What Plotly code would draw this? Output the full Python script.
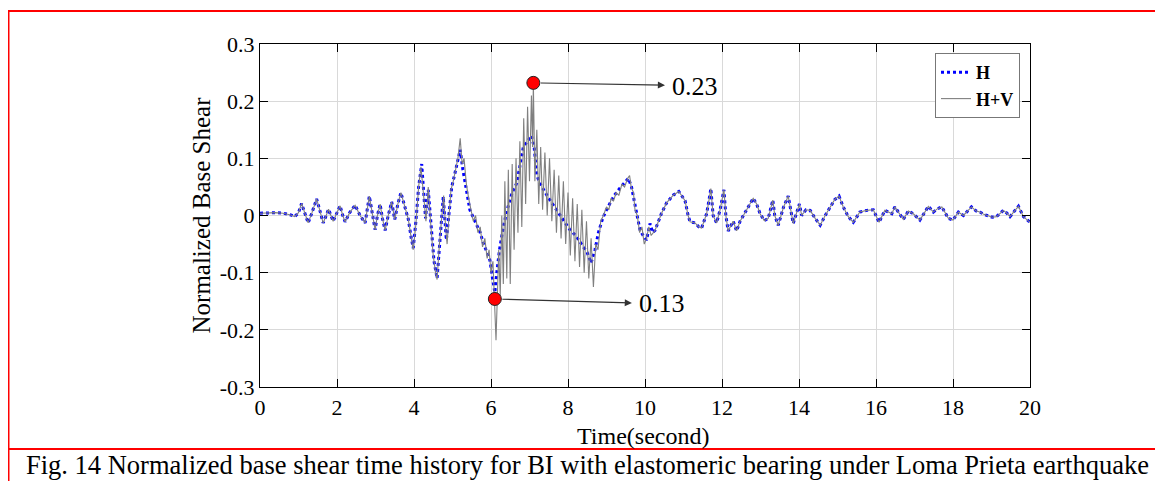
import plotly.graph_objects as go

# ---------------- data ----------------
# H (horizontal excitation only)
t_h = [0, 0.2, 0.4, 0.6, 0.8, 0.9, 1.0, 1.08, 1.16, 1.25, 1.35, 1.47, 1.55, 1.64, 1.72, 1.78, 1.9, 1.98,
       2.08, 2.15, 2.21, 2.33, 2.47, 2.6, 2.73, 2.84, 2.92, 2.99, 3.05, 3.12, 3.18, 3.25, 3.33, 3.42, 3.5,
       3.58, 3.66, 3.75, 3.85, 3.93, 3.98, 4.05, 4.12, 4.2, 4.26, 4.3, 4.37, 4.45, 4.52, 4.6, 4.68, 4.76,
       4.84, 4.9, 4.98, 5.05, 5.12, 5.2, 5.27, 5.35, 5.45, 5.55, 5.65, 5.72, 5.8, 5.9, 5.97, 6.04, 6.1,
       6.15, 6.22, 6.32, 6.42, 6.55, 6.67, 6.76, 6.84, 6.95, 7.05, 7.12, 7.19, 7.28, 7.36, 7.5, 7.6, 7.7,
       7.85, 8.05, 8.2, 8.4, 8.5, 8.6, 8.7, 8.79, 8.9, 9.0, 9.09, 9.2, 9.35, 9.45, 9.57, 9.65, 9.7, 9.78,
       9.87, 9.95, 10.04, 10.13, 10.2, 10.26, 10.35, 10.43, 10.56, 10.74, 10.88, 11.04, 11.12, 11.17,
       11.3, 11.4, 11.47, 11.6, 11.67, 11.71, 11.77, 11.86, 11.95, 12.05, 12.1, 12.16, 12.29, 12.38,
       12.47, 12.55, 12.64, 12.81, 12.9, 12.99, 13.1, 13.2, 13.32, 13.37, 13.46, 13.6, 13.72, 13.78,
       13.85, 14.01, 14.07, 14.18, 14.29, 14.42, 14.55, 14.68, 14.81, 14.93, 15.04, 15.15, 15.28, 15.41,
       15.58, 15.76, 15.93, 16.0, 16.08, 16.23, 16.41, 16.49, 16.6, 16.71, 16.84, 16.97, 17.14, 17.25,
       17.36, 17.49, 17.6, 17.71, 17.88, 18.0, 18.14, 18.27, 18.38, 18.48, 18.6, 18.7, 18.8, 18.92,
       19.02, 19.13, 19.31, 19.4, 19.48, 19.6, 19.7, 19.83, 19.91, 20.0]
h = [0.004, 0.005, 0.005, 0.004, 0.001, -0.002, 0.005, 0.021, 0.005, -0.013, 0.005, 0.029, 0.01, -0.013,
     0.0, 0.011, -0.01, 0.002, 0.017, 0.0, -0.011, 0.005, 0.018, 0.0, -0.013, 0.034, 0.0, -0.025, 0.0,
     0.02, -0.005, -0.026, 0.0, 0.024, -0.007, 0.02, 0.04, 0.02, -0.006, -0.04, -0.057, -0.01, 0.05,
     0.09, 0.03, -0.005, 0.045, -0.02, -0.08, -0.11, -0.04, 0.033, -0.043, 0.0, 0.05, 0.07, 0.09, 0.115,
     0.08, 0.05, 0.01, -0.005, -0.02, -0.03, -0.048, -0.065, -0.078, -0.11, -0.135, -0.1, -0.06, -0.02,
     0.01, 0.04, 0.057, 0.09, 0.12, 0.13, 0.14, 0.12, 0.07, 0.055, 0.045, 0.03, 0.02, 0.01, -0.005,
     -0.025, -0.035, -0.055, -0.065, -0.083, -0.06, -0.03, -0.005, 0.01, 0.022, 0.035, 0.048, 0.055,
     0.065, 0.05, 0.035, 0.005, -0.025, -0.035, -0.043, -0.014, -0.03, -0.026, -0.01, 0.004, 0.022,
     0.036, 0.042, 0.026, 0.0, -0.011, -0.013, -0.02, -0.022, 0.003, 0.03, 0.047, 0.0, -0.013, 0.01,
     0.045, 0.0, -0.027, -0.01, -0.027, -0.01, 0.0, 0.01, 0.03, 0.02, 0.003, -0.009, -0.005, 0.027, 0.0,
     -0.017, 0.015, 0.034, 0.01, -0.014, 0.02, 0.0, 0.01, 0.009, -0.005, -0.017, 0.0, 0.015, 0.028,
     0.034, 0.015, -0.002, -0.012, 0.006, 0.009, 0.01, 0.0, -0.012, 0.009, 0.003, 0.015, 0.005, -0.007,
     0.008, 0.003, -0.008, 0.005, 0.016, 0.006, 0.012, 0.015, -0.005, -0.008, 0.006, 0.0, 0.008, 0.015,
     0.008, 0.006, 0.002, 0.0, -0.003, -0.002, 0.009, 0.004, -0.002, 0.008, 0.016, -0.002, -0.007,
     -0.012]

# H+V : strong-motion part (quiet parts coincide with H)
t_hv_mid = [3.93, 3.98, 4.05, 4.12, 4.18, 4.22, 4.27, 4.31, 4.37, 4.44, 4.5, 4.56, 4.6, 4.66, 4.72, 4.77,
            4.82, 4.86, 4.9, 4.96, 5.02, 5.08, 5.14, 5.2, 5.25, 5.3, 5.36, 5.42, 5.48, 5.54, 5.6, 5.66,
            5.72, 5.78, 5.84, 5.9, 5.95, 6.0, 6.05, 6.1, 6.13, 6.17, 6.2, 6.24, 6.28, 6.32, 6.36, 6.41,
            6.45, 6.5, 6.55, 6.6, 6.65, 6.7, 6.75, 6.8, 6.85, 6.9, 6.95, 7.0, 7.05, 7.08, 7.1, 7.14, 7.19,
            7.24, 7.29, 7.34, 7.4, 7.46, 7.52, 7.58, 7.64, 7.7, 7.76, 7.82, 7.88, 7.94, 8.0, 8.06, 8.12,
            8.18, 8.24, 8.3, 8.36, 8.42, 8.48, 8.54, 8.6, 8.66, 8.72, 8.78, 8.85, 8.92, 9.0, 9.06, 9.12,
            9.18, 9.25, 9.32, 9.4, 9.47, 9.55, 9.6, 9.64, 9.7, 9.74, 9.8, 9.86, 9.92, 9.98, 10.04, 10.1,
            10.16]
hv_mid = [-0.04, -0.06, -0.015, 0.05, 0.085, 0.06, 0.02, -0.01, 0.05, -0.02, -0.07, -0.1, -0.112, -0.05,
          0.0, 0.035, -0.02, -0.05, -0.01, 0.045, 0.06, 0.08, 0.1, 0.135, 0.09, 0.1, 0.055, 0.03, 0.01,
          -0.01, 0.0, -0.03, -0.02, -0.055, -0.04, -0.075, -0.06, -0.1, -0.08, -0.15, -0.218, -0.13,
          -0.06, -0.14, 0.0, -0.12, 0.06, -0.11, 0.08, -0.12, 0.09, -0.06, 0.1, -0.03, 0.13, -0.02, 0.17,
          0.02, 0.19, 0.06, 0.21, 0.12, 0.232, 0.06, 0.15, 0.02, 0.12, 0.01, 0.11, 0.0, 0.1, -0.01, 0.08,
          -0.03, 0.07, -0.04, 0.06, -0.05, 0.04, -0.07, 0.03, -0.08, 0.02, -0.09, 0.01, -0.1, -0.01,
          -0.11, -0.04, -0.125, -0.05, -0.06, -0.01, 0.0, 0.015, 0.01, 0.03, 0.025, 0.04, 0.035, 0.055,
          0.05, 0.065, 0.07, 0.05, 0.04, 0.01, 0.0, -0.03, -0.02, -0.05, -0.04, -0.02, -0.035]

# peak markers (H+V maximum and H minimum region)
peak_t = [7.1, 6.1]
peak_v = [0.232, -0.146]
peak_labels = ["0.23", "0.13"]
arrow_end_t = [10.52, 9.66]
arrow_end_v = [0.228, -0.153]

x_ticks = [0, 2, 4, 6, 8, 10, 12, 14, 16, 18, 20]
y_ticks = [-0.3, -0.2, -0.1, 0, 0.1, 0.2, 0.3]
y_tick_text = ["-0.3", "-0.2", "-0.1", "0", "0.1", "0.2", "0.3"]

caption = "Fig. 14 Normalized base shear time history for BI with elastomeric bearing under Loma Prieta earthquake"

# ---------------- assemble H+V series ----------------
t_hv = [t for t in t_h if t < 3.9] + t_hv_mid + [t for t in t_h if t > 10.2]
hv = [v for t, v in zip(t_h, h) if t < 3.9] + hv_mid + [v for t, v in zip(t_h, h) if t > 10.2]

FONT = "Liberation Serif"

fig = go.Figure()
fig.add_trace(go.Scatter(x=t_h, y=h, mode="lines", name="<b>H</b>",
                         line=dict(color="#0000ff", width=3, dash="dot")))
fig.add_trace(go.Scatter(x=t_hv, y=hv, mode="lines", name="<b>H+V</b>",
                         line=dict(color="#808080", width=1.1)))
fig.add_trace(go.Scatter(x=peak_t, y=peak_v, mode="markers", showlegend=False,
                         marker=dict(color="#ff0000", size=13, line=dict(color="#222222", width=1))))

# page has an 8 px body margin; page coordinates below are converted to figure coordinates
OFF = 8
W, H = 1163, 481
L, T = 260 - OFF, 44 - OFF
R = W - (1030 - OFF)
B = H - (387 - OFF)
pw, ph = W - L - R, H - T - B


def px_x(px):
    return (px - OFF - L) / pw


def px_y(py):
    return (H - B - (py - OFF)) / ph


annotations = []
for i in range(len(peak_t)):
    annotations.append(dict(x=arrow_end_t[i], y=arrow_end_v[i], xref="x", yref="y",
                            ax=peak_t[i], ay=peak_v[i], axref="x", ayref="y",
                            text="", showarrow=True, arrowhead=2, arrowsize=1.3,
                            arrowwidth=1.1, arrowcolor="#333333", standoff=0, startstandoff=6))
    annotations.append(dict(x=arrow_end_t[i], y=arrow_end_v[i], xref="x", yref="y",
                            text=peak_labels[i], showarrow=False, xanchor="left", xshift=5,
                            yshift=-1, font=dict(family=FONT, size=26, color="#000000")))

annotations.append(dict(x=px_x(201), y=0.5, xref="paper", yref="paper", text="Normalized Base Shear",
                        textangle=-90, showarrow=False, xanchor="center", yanchor="middle",
                        font=dict(family=FONT, size=25, color="#000")))
annotations.append(dict(x=px_x(643), y=px_y(436), xref="paper", yref="paper", text="Time(second)",
                        showarrow=False, xanchor="center", yanchor="middle",
                        font=dict(family=FONT, size=24, color="#000")))
annotations.append(dict(x=px_x(587), y=px_y(465), xref="paper", yref="paper", text=caption,
                        showarrow=False, xanchor="center", yanchor="middle",
                        font=dict(family=FONT, size=26.5, color="#000")))

shapes = [
    dict(type="line", xref="paper", yref="paper", x0=px_x(8), x1=px_x(1175), y0=px_y(11), y1=px_y(11),
         line=dict(color="#ff0000", width=2)),
    dict(type="line", xref="paper", yref="paper", x0=px_x(8), x1=px_x(1175), y0=px_y(449), y1=px_y(449),
         line=dict(color="#ff0000", width=2)),
    dict(type="line", xref="paper", yref="paper", x0=px_x(8.5), x1=px_x(8.5), y0=px_y(11), y1=px_y(495),
         line=dict(color="#ff0000", width=2)),
]

fig.update_layout(
    width=W, height=H,
    margin=dict(l=L, r=R, t=T, b=B),
    paper_bgcolor="white", plot_bgcolor="white",
    font=dict(family=FONT, color="#000"),
    showlegend=True,
    legend=dict(x=px_x(1020), y=px_y(53), xanchor="right", yanchor="top",
                bgcolor="white", bordercolor="#777777", borderwidth=1,
                font=dict(family=FONT, size=18, color="#000"),
                tracegroupgap=0, itemwidth=30),
    annotations=annotations,
    shapes=shapes,
)
fig.update_xaxes(range=[0, 20], tickvals=x_ticks, ticks="inside", ticklen=8, tickcolor="#000",
                 showline=True, linecolor="#000", linewidth=1.2, mirror="ticks",
                 showgrid=True, gridcolor="#d9d9d9", gridwidth=1, zeroline=False,
                 tickfont=dict(family=FONT, size=22, color="#000"))
fig.update_yaxes(range=[-0.3, 0.3], tickvals=y_ticks, ticktext=y_tick_text, ticks="inside", ticklen=8,
                 tickcolor="#000", showline=True, linecolor="#000", linewidth=1.2, mirror="ticks",
                 showgrid=True, gridcolor="#d9d9d9", gridwidth=1, zeroline=False,
                 tickfont=dict(family=FONT, size=22, color="#000"))

fig.write_html("out.html")
